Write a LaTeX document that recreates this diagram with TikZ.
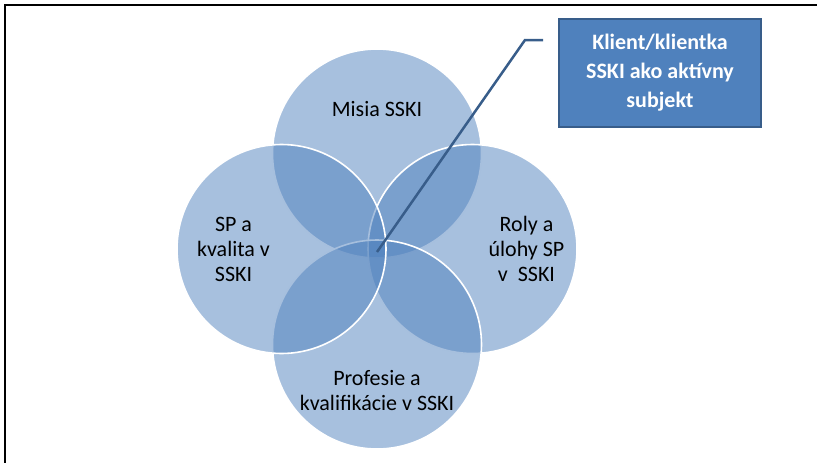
\documentclass[tikz,border=0pt]{standalone}
\usepackage{fontspec}
\setmainfont{Carlito}
\usepackage{tikz}
\usetikzlibrary{positioning}
\definecolor{vennblue}{RGB}{79,129,189}
\definecolor{venndark}{RGB}{56,93,138}

\begin{document}
\begin{tikzpicture}[x=1pt,y=-1pt,node distance=95.5pt,on grid,
  venn/.style={circle,minimum size=209pt,inner sep=0pt,fill=vennblue,fill opacity=0.5,draw=white,line width=1.6pt},
  vtext/.style={align=center,font=\fontsize{22}{25}\selectfont,text=black},
  klientbox/.style={rectangle,fill=vennblue,draw=venndark,line width=1.6pt,minimum width=202pt,minimum height=108pt,align=center,text=white,font=\bfseries\fontsize{22}{29}\selectfont}]
  \useasboundingbox (0,0) rectangle (817,463);
  \draw[line width=1.5pt] (5,463) -- (5,5) -- (817,5);

  \coordinate (c) at (377,249);
  \node[venn] (vtop) at ([yshift=95.5pt]c) {};
  \node[venn] (vright) at ([xshift=95.5pt]c) {};
  \node[venn] (vbottom) at ([yshift=-95.5pt]c) {};
  \node[venn] (vleft) at ([xshift=-95.5pt]c) {};

  \node[vtext] (misiatext) [above = 44pt of vtop] {Misia SSKI};
  \node[vtext] (rolytext) [right = 54pt of vright] {Roly a\\úlohy SP\\v~~SSKI};
  \node[vtext] (profesietext) [below = 46pt of vbottom] {Profesie a\\kvalifikácie v SSKI};
  \node[vtext] (kvalitatext) [left = 48pt of vleft] {SP a\\kvalita v\\SSKI};

  \node[klientbox] (klient) at (660,73) {Klient/klientka\\SSKI ako aktívny\\subjekt};
  \coordinate (tip) at ([yshift=-3pt]c);
  \coordinate (knee) at (525,40);
  \coordinate (lineend) at (543,40);
  \draw[venndark,line width=2.5pt] (tip) -- (knee) -- (lineend);
\end{tikzpicture}
\end{document}
